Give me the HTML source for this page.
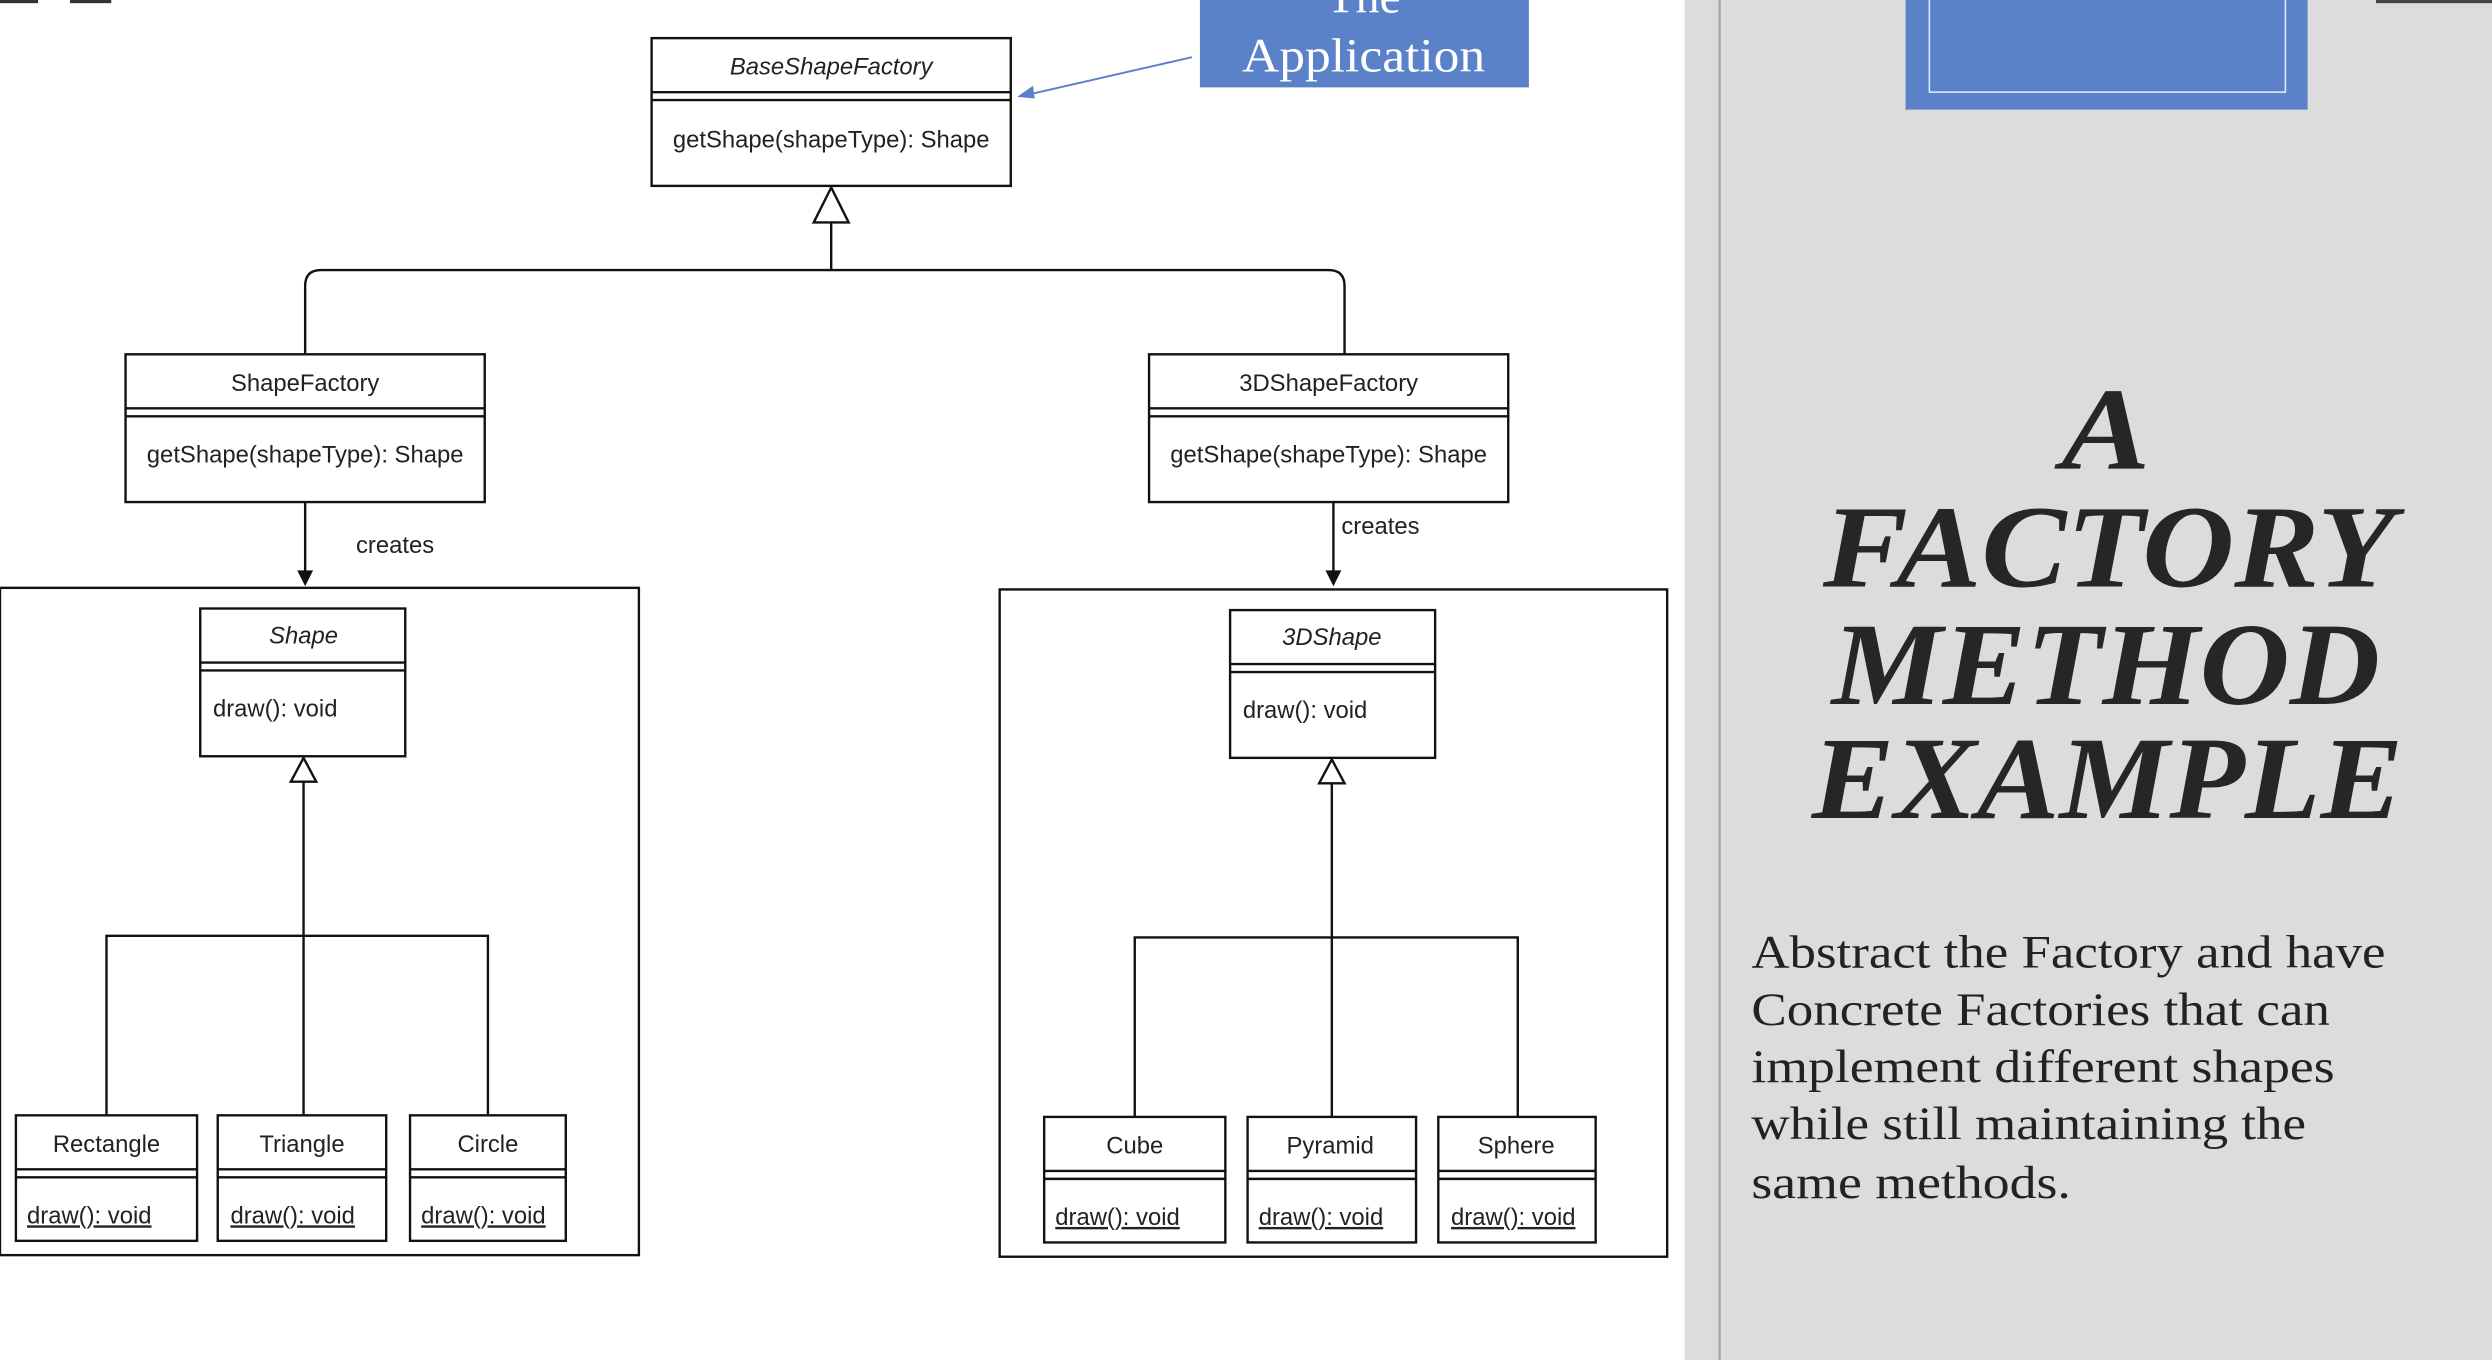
<!DOCTYPE html>
<html><head><meta charset="utf-8"><style>
html,body{margin:0;padding:0;background:#fff;overflow:hidden}
svg{display:block}
.s{font-family:"Liberation Sans",Arial,sans-serif;font-size:15px;fill:#222}
.i{font-style:italic}
.u{text-decoration:underline}
</style></head><body>
<svg width="2492" height="1360" viewBox="0 0 1568 856" preserveAspectRatio="none" xmlns="http://www.w3.org/2000/svg">
<rect x="0" y="0" width="1568" height="856" fill="#fff"/>
<rect x="1060" y="0" width="508" height="856" fill="#dcdbde"/>
<line x1="1082" y1="0" x2="1082" y2="856" stroke="#a8a7ab" stroke-width="1.5"/>
<rect x="1199" y="0" width="253" height="69" fill="#5b82c9"/>
<rect x="1214" y="-2" width="224" height="60" fill="none" stroke="#dfe8f7" stroke-width="1"/>
<rect x="1495" y="0" width="73" height="2" fill="#444"/>
<rect x="0" y="0" width="24" height="2" fill="#333"/><rect x="44" y="0" width="26" height="2" fill="#333"/>

<rect x="755" y="0" width="207" height="55" fill="#5b82c9"/>
<text x="858" y="8" text-anchor="middle" font-family="Liberation Serif,serif" font-size="30" fill="#fff">The</text>
<text x="858" y="45" text-anchor="middle" font-family="Liberation Serif,serif" font-size="30" fill="#fff" textLength="153" lengthAdjust="spacingAndGlyphs">Application</text>
<line x1="750" y1="36" x2="645" y2="60" stroke="#5b82c9" stroke-width="1.2"/>
<path d="M640,61 L650,54 L651,62 Z" fill="#5b82c9"/>

<g fill="#fff" stroke="#111" stroke-width="1.5">
<rect x="410" y="24" width="226" height="93"/>
<line x1="410" y1="58" x2="636" y2="58"/><line x1="410" y1="63" x2="636" y2="63"/>
<rect x="79" y="223" width="226" height="93"/>
<line x1="79" y1="257" x2="305" y2="257"/><line x1="79" y1="262" x2="305" y2="262"/>
<rect x="723" y="223" width="226" height="93"/>
<line x1="723" y1="257" x2="949" y2="257"/><line x1="723" y1="262" x2="949" y2="262"/>
<rect x="0" y="370" width="402" height="420" fill="none"/>
<rect x="629" y="371" width="420" height="420" fill="none"/>
<rect x="126" y="383" width="129" height="93"/>
<line x1="126" y1="417" x2="255" y2="417"/><line x1="126" y1="422" x2="255" y2="422"/>
<rect x="774" y="384" width="129" height="93"/>
<line x1="774" y1="418" x2="903" y2="418"/><line x1="774" y1="423" x2="903" y2="423"/>
</g>
<g fill="none" stroke="#111" stroke-width="1.5">
<path d="M523,140 V170 M202,170 H836 Q846,170 846,180 V223 M202,170 Q192,170 192,180 V223"/>
<path d="M192,316 V362 M839,316 V362"/>
<path d="M191,492 V702 M67,702 V589 H307 V702"/>
<path d="M838,493 V703 M714,703 V590 H955 V703"/>
</g>
<path d="M523,118 L512,140 L534,140 Z" fill="#fff" stroke="#111" stroke-width="1.5"/>
<path d="M191,477 L183,492 L199,492 Z" fill="#fff" stroke="#111" stroke-width="1.5"/>
<path d="M838,478 L830,493 L846,493 Z" fill="#fff" stroke="#111" stroke-width="1.5"/>
<path d="M187,359 L192,369 L197,359 Z M834,359 L839,369 L844,359 Z" fill="#111"/>

<g fill="#fff" stroke="#111" stroke-width="1.5">
<rect x="10" y="702" width="114" height="79"/><line x1="10" y1="736" x2="124" y2="736"/><line x1="10" y1="741" x2="124" y2="741"/>
<rect x="137" y="702" width="106" height="79"/><line x1="137" y1="736" x2="243" y2="736"/><line x1="137" y1="741" x2="243" y2="741"/>
<rect x="258" y="702" width="98" height="79"/><line x1="258" y1="736" x2="356" y2="736"/><line x1="258" y1="741" x2="356" y2="741"/>
<rect x="657" y="703" width="114" height="79"/><line x1="657" y1="737" x2="771" y2="737"/><line x1="657" y1="742" x2="771" y2="742"/>
<rect x="785" y="703" width="106" height="79"/><line x1="785" y1="737" x2="891" y2="737"/><line x1="785" y1="742" x2="891" y2="742"/>
<rect x="905" y="703" width="99" height="79"/><line x1="905" y1="737" x2="1004" y2="737"/><line x1="905" y1="742" x2="1004" y2="742"/>
</g>

<g class="s">
<text x="523" y="47" text-anchor="middle" class="i">BaseShapeFactory</text>
<text x="523" y="93" text-anchor="middle">getShape(shapeType): Shape</text>
<text x="192" y="246" text-anchor="middle">ShapeFactory</text>
<text x="192" y="291" text-anchor="middle">getShape(shapeType): Shape</text>
<text x="836" y="246" text-anchor="middle">3DShapeFactory</text>
<text x="836" y="291" text-anchor="middle">getShape(shapeType): Shape</text>
<text x="224" y="348">creates</text>
<text x="844" y="336">creates</text>
<text x="191" y="405" text-anchor="middle" class="i">Shape</text>
<text x="134" y="451">draw(): void</text>
<text x="838" y="406" text-anchor="middle" class="i">3DShape</text>
<text x="782" y="452">draw(): void</text>
<text x="67" y="725" text-anchor="middle">Rectangle</text>
<text x="190" y="725" text-anchor="middle">Triangle</text>
<text x="307" y="725" text-anchor="middle">Circle</text>
<text x="17" y="770" class="u">draw(): void</text>
<text x="145" y="770" class="u">draw(): void</text>
<text x="265" y="770" class="u">draw(): void</text>
<text x="714" y="726" text-anchor="middle">Cube</text>
<text x="837" y="726" text-anchor="middle">Pyramid</text>
<text x="954" y="726" text-anchor="middle">Sphere</text>
<text x="664" y="771" class="u">draw(): void</text>
<text x="792" y="771" class="u">draw(): void</text>
<text x="913" y="771" class="u">draw(): void</text>
</g>

<g font-family="Liberation Serif,serif" font-weight="bold" font-style="italic" font-size="74" fill="#262626" text-anchor="middle">
<text x="1325" y="295" textLength="56" lengthAdjust="spacingAndGlyphs">A</text>
<text x="1327" y="369" textLength="360" lengthAdjust="spacingAndGlyphs">FACTORY</text>
<text x="1325" y="443" textLength="345" lengthAdjust="spacingAndGlyphs">METHOD</text>
<text x="1326" y="515" textLength="372" lengthAdjust="spacingAndGlyphs">EXAMPLE</text>
</g>
<g font-family="Liberation Serif,serif" font-size="29" fill="#222">
<text x="1102" y="609" textLength="399" lengthAdjust="spacingAndGlyphs">Abstract the Factory and have</text>
<text x="1102" y="645" textLength="364" lengthAdjust="spacingAndGlyphs">Concrete Factories that can</text>
<text x="1102" y="681" textLength="367" lengthAdjust="spacingAndGlyphs">implement different shapes</text>
<text x="1102" y="717" textLength="349" lengthAdjust="spacingAndGlyphs">while still maintaining the</text>
<text x="1102" y="754" textLength="201" lengthAdjust="spacingAndGlyphs">same methods.</text>
</g>
</svg>
</body></html>
